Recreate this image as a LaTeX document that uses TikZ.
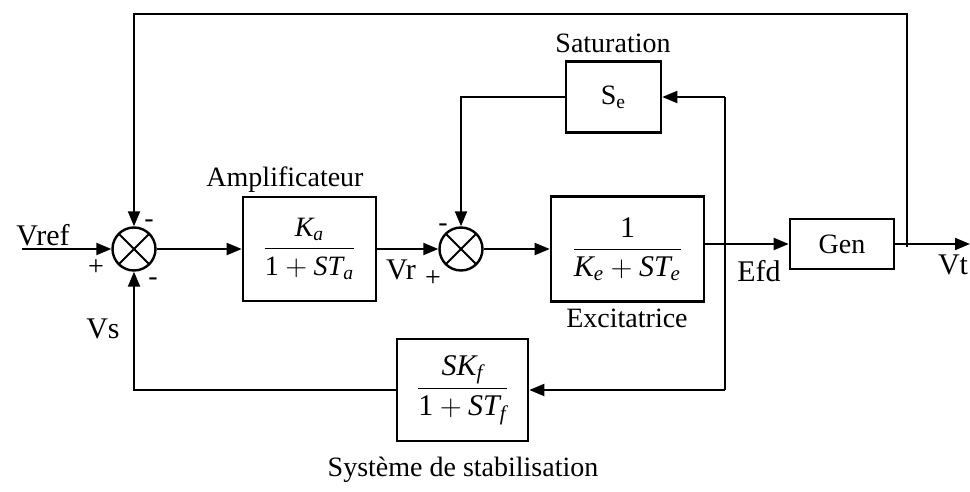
\documentclass[tikz,border=0pt]{standalone}
\usepackage{amsmath}
\usepackage{fontspec}
\setmainfont{Liberation Serif}
\usetikzlibrary{arrows.meta, positioning}

\begin{document}
\begin{tikzpicture}[
  x=0.5pt, y=-0.5pt,
  font=\fontsize{14}{16}\selectfont,
  bloc/.style={draw, line width=1.3pt, fill=white, align=center, inner sep=0pt},
  somme/.style={circle, draw, line width=1.2pt, minimum size=21.5pt, inner sep=0pt,
    path picture={
      \draw[line width=1pt] (path picture bounding box.north west) -- (path picture bounding box.south east);
      \draw[line width=1pt] (path picture bounding box.north east) -- (path picture bounding box.south west);}},
  fleche/.style={-{Triangle[length=7.5pt, width=6pt]}, line width=1pt},
  ligne/.style={line width=1pt},
  signal/.style={font=\fontsize{15}{17}\selectfont},
  signe/.style={inner sep=0pt, font=\fontsize{14}{16}\selectfont},
]
\useasboundingbox (0,0) rectangle (970,492);

% --- Chaine directe ---
\node[somme] (sum1) at (134,249) {};
\node[bloc, minimum width=66.5pt, minimum height=52pt] (ampli) at (309.5,249)
  {$\dfrac{\textit{K}_{\textit{a}}}{\textrm{1}+\textit{ST}_{\textit{a}}}$};
\node[somme] (sum2) at (461,249) {};
\node[bloc, minimum width=76.5pt, minimum height=52.5pt, font=\fontsize{15}{18}\selectfont] (excit) at (627.5,249)
  {$\dfrac{\textrm{1}}{\textit{K}_{\textit{e}}+\textit{ST}_{\textit{e}}}$};
\node[bloc, minimum width=52pt, minimum height=25pt] (gen) at (842,244) {Gen};

% --- Retours ---
\node[bloc, minimum width=47.5pt, minimum height=35.5pt] (satur) at (613.5,97) {S\textsubscript{e}};
\node[bloc, minimum width=65.5pt, minimum height=51pt, font=\fontsize{15}{18}\selectfont] (stab) at (462.5,390)
  {$\dfrac{\textit{SK}_{\textit{f}}}{\textrm{1}+\textit{ST}_{\textit{f}}}$};

\coordinate (vin) at (22,249);
\coordinate (vout) at (970,244);
\coordinate (jt) at (907,247);
\coordinate (haut) at (907,14);
\coordinate (sh) at (725,97);
\coordinate (sb) at (725,390);

\draw[fleche] (vin) -- (sum1.west);
\draw[fleche] (sum1) -- (ampli);
\draw[fleche] (ampli) -- (sum2);
\draw[fleche] (sum2) -- (excit);
\draw[fleche] (excit.east |- gen.west) -- (gen.west);
\draw[fleche] (gen) -- (vout);

\draw[fleche] (jt) -- (haut) -| (sum1.north);
\draw[ligne] (sh) -- (sb);
\draw[fleche] (sh) -- (satur.east);
\draw[fleche] (satur.west) -| (sum2.north);
\draw[fleche] (sb) -- (stab.east);
\draw[fleche] (stab.west) -| (sum1.south);

% --- Textes ---
\node[signal] (lvref) at (43,235) {Vref};
\node[signal] (lvs) at (103,329) {Vs};
\node[signal] (lvr) at (401,270) {Vr};
\node[signal] (lefd) at (759,271) {Efd};
\node[signal] (lvt) at (953,265) {Vt};
\node (lampli) at (285,180) {Amplificateur};
\node (lexcit) at (627,318) {Excitatrice};
\node (lsatur) at (613,43) {Saturation};
\node (lstab) at (463,470) {Système de stabilisation};

\node[signe] (p1) at (96,268) {+};
\node[signe] (m1) at (149,224) {-};
\node[signe] (m2) at (153,282) {-};
\node[signe] (m3) at (443,228) {-};
\node[signe] (p2) at (433,279) {+};

\end{tikzpicture}
\end{document}
